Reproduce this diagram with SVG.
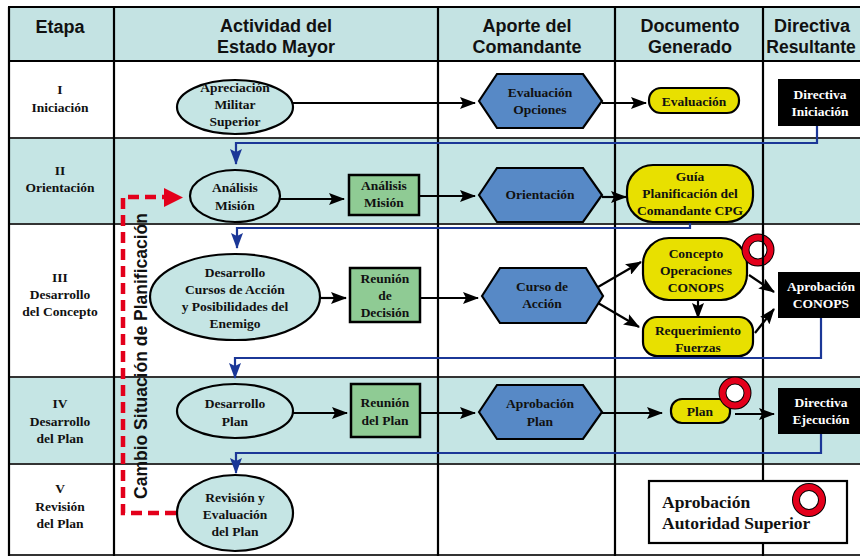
<svg xmlns="http://www.w3.org/2000/svg" width="860" height="556" viewBox="0 0 860 556">
  <style>
    .hdr { font-family: "Liberation Sans", Arial, sans-serif; font-weight: bold; font-size: 18px; fill: #111; text-anchor: middle; }
    .stg { font-family: "Liberation Serif", "Times New Roman", serif; font-weight: bold; font-size: 13.5px; fill: #111; text-anchor: middle; }
    .lbl { font-family: "Liberation Serif", "Times New Roman", serif; font-weight: bold; font-size: 13.5px; fill: #111; text-anchor: middle; }
    .lbw { font-family: "Liberation Serif", "Times New Roman", serif; font-weight: bold; font-size: 13.5px; fill: #fff; text-anchor: middle; }
    .ell { fill: #C5E5E4; stroke: #000; stroke-width: 2.2; }
    .hex { fill: #5789C6; stroke: #000; stroke-width: 2.2; }
    .grn { fill: #8FCB94; stroke: #000; stroke-width: 2.5; }
    .yel { fill: #E8E000; stroke: #000; stroke-width: 2.2; }
    .blk { fill: #000; }
    .vline { stroke: #000; stroke-width: 2.2; fill: none; }
    .hline { stroke: #333; stroke-width: 2; fill: none; }
    .flow { stroke: #000; stroke-width: 2.2; fill: none; marker-end: url(#ah); }
    .back { stroke: #1B3797; stroke-width: 2.2; fill: none; marker-end: url(#ahb); }
    .ring-o { fill: #fff; stroke: #000; stroke-width: 8; }
    .ring-i { fill: none; stroke: #E3001B; stroke-width: 6; }
  </style>
  <defs>
    <marker id="ah" markerUnits="userSpaceOnUse" markerWidth="16" markerHeight="12" refX="15" refY="6" orient="auto">
      <path d="M0,0 L16,6 L0,12 L3,6 z" fill="#000"/>
    </marker>
    <marker id="ahb" markerUnits="userSpaceOnUse" markerWidth="12" markerHeight="16" refX="6" refY="15" orient="0">
      <path d="M0,0 L6,3 L12,0 L6,16 z" fill="#1B3797"/>
    </marker>
  </defs>

  <!-- table background -->
  <g id="table-bg">
    <rect x="8" y="7" width="860" height="54" fill="#C4E3E3"/>
    <rect x="8" y="138" width="860" height="86" fill="#C5E5E4"/>
    <rect x="8" y="377" width="860" height="87" fill="#C5E5E4"/>
  </g>

  <!-- table grid -->
  <g id="grid">
    <line class="vline" x1="8" y1="7" x2="860" y2="7"/>
    <line class="vline" x1="8" y1="61" x2="860" y2="61"/>
    <line class="hline" x1="8" y1="138" x2="860" y2="138"/>
    <line class="hline" x1="8" y1="224" x2="860" y2="224"/>
    <line class="hline" x1="8" y1="377" x2="860" y2="377"/>
    <line class="hline" x1="8" y1="464" x2="860" y2="464"/>
    <line class="hline" x1="8" y1="555" x2="860" y2="555"/>
    <line class="vline" x1="9" y1="7" x2="9" y2="556"/>
    <line class="vline" x1="114" y1="7" x2="114" y2="556"/>
    <line class="vline" x1="438" y1="7" x2="438" y2="556"/>
    <line class="vline" x1="615" y1="7" x2="615" y2="556"/>
    <line class="vline" x1="763" y1="7" x2="763" y2="556"/>
  </g>

  <!-- column headings -->
  <g id="headers">
    <text class="hdr" x="60" y="33">Etapa</text>
    <text class="hdr" x="276" y="32">Actividad del</text>
    <text class="hdr" x="276" y="53">Estado Mayor</text>
    <text class="hdr" x="527" y="32">Aporte del</text>
    <text class="hdr" x="527" y="53">Comandante</text>
    <text class="hdr" x="690" y="32">Documento</text>
    <text class="hdr" x="690" y="53">Generado</text>
    <text class="hdr" x="812" y="32">Directiva</text>
    <text class="hdr" x="811" y="53" style="font-size:17.5px">Resultante</text>
  </g>

  <!-- stage labels -->
  <g id="stages">
    <text class="stg" x="60" y="94">I</text>
    <text class="stg" x="60" y="112">Iniciación</text>
    <text class="stg" x="60" y="175">II</text>
    <text class="stg" x="60" y="192">Orientación</text>
    <text class="stg" x="60" y="282">III</text>
    <text class="stg" x="60" y="299">Desarrollo</text>
    <text class="stg" x="60" y="316">del Concepto</text>
    <text class="stg" x="60" y="408">IV</text>
    <text class="stg" x="60" y="426">Desarrollo</text>
    <text class="stg" x="60" y="443">del Plan</text>
    <text class="stg" x="60" y="493">V</text>
    <text class="stg" x="60" y="511">Revisión</text>
    <text class="stg" x="60" y="528">del Plan</text>
  </g>

  <!-- connectors -->
  <g id="connectors">
    <line class="flow" x1="293" y1="103" x2="475" y2="103"/>
    <line class="flow" x1="602" y1="103" x2="646" y2="103"/>
    <path class="back" d="M817,126 V143 H236 V164"/>

    <line class="flow" x1="280" y1="199" x2="344" y2="199"/>
    <line class="flow" x1="419" y1="196" x2="475" y2="196"/>
    <line class="flow" x1="602" y1="197" x2="626" y2="197"/>
    <path class="back" d="M690,222 V228 H237 V248"/>

    <line class="flow" x1="320" y1="298" x2="346" y2="298"/>
    <line class="flow" x1="420" y1="298" x2="478" y2="298"/>
    <line class="flow" x1="598" y1="287" x2="641" y2="262"/>
    <line class="flow" x1="598" y1="303" x2="639" y2="327"/>
    <line class="flow" x1="698" y1="300" x2="698" y2="318"/>
    <line class="flow" x1="749" y1="275" x2="774" y2="292"/>
    <line class="flow" x1="755" y1="333" x2="774" y2="309"/>
    <path class="back" d="M821,318 V358 H235 V378"/>

    <line class="flow" x1="293" y1="413" x2="347" y2="413"/>
    <line class="flow" x1="420" y1="413" x2="475" y2="413"/>
    <line class="flow" x1="602" y1="413" x2="662" y2="413"/>
    <line class="flow" x1="735" y1="414" x2="774" y2="414"/>
    <path class="back" d="M821,434 V453 H236 V473"/>

    <path d="M176,513 H123 V197 H166" fill="none" stroke="#E3001B" stroke-width="4.5" stroke-dasharray="11,6"/>
    <path d="M164,188 L183,197.5 L164,207 z" fill="#E3001B"/>
  </g>

  <text id="replan-label" class="hdr" transform="translate(147,356) rotate(-90)" style="font-size:17.5px">Cambio Situación de Planificación</text>

  <!-- I Iniciación -->
  <g id="n-apreciacion">
    <ellipse class="ell" cx="235" cy="107" rx="58" ry="27"/>
    <text class="lbl" x="235" y="92">Apreciación</text>
    <text class="lbl" x="235" y="109">Militar</text>
    <text class="lbl" x="235" y="126">Superior</text>
  </g>
  <g id="n-eval-opciones">
    <polygon class="hex" points="479,101 497,74 583,74 602,101 583,128 497,128"/>
    <text class="lbl" x="540" y="97">Evaluación</text>
    <text class="lbl" x="540" y="114">Opciones</text>
  </g>
  <g id="n-evaluacion">
    <rect class="yel" x="649" y="88" width="90" height="25" rx="12"/>
    <text class="lbl" x="694" y="106">Evaluación</text>
  </g>
  <g id="n-dir-iniciacion">
    <rect class="blk" x="778" y="79" width="90" height="47"/>
    <text class="lbw" x="820" y="99">Directiva</text>
    <text class="lbw" x="820" y="116">Iniciación</text>
  </g>

  <!-- II Orientación -->
  <g id="n-analisis">
    <ellipse class="ell" cx="235" cy="196" rx="45" ry="26"/>
    <text class="lbl" x="235" y="192">Análisis</text>
    <text class="lbl" x="235" y="210">Misión</text>
  </g>
  <g id="n-analisis-mision">
    <rect class="grn" x="349" y="175" width="70" height="40"/>
    <text class="lbl" x="384" y="190">Análisis</text>
    <text class="lbl" x="384" y="207">Misión</text>
  </g>
  <g id="n-orientacion">
    <polygon class="hex" points="479,195 497,168 583,168 602,195 583,222 497,222"/>
    <text class="lbl" x="540" y="199">Orientación</text>
  </g>
  <g id="n-cpg">
    <rect class="yel" x="627" y="165" width="126" height="57" rx="26"/>
    <text class="lbl" x="690" y="181">Guía</text>
    <text class="lbl" x="690" y="198">Planificación del</text>
    <text class="lbl" x="690" y="215">Comandante CPG</text>
  </g>

  <!-- III Desarrollo del Concepto -->
  <g id="n-cursos">
    <ellipse class="ell" cx="235" cy="297" rx="85" ry="43"/>
    <text class="lbl" x="235" y="277">Desarrollo</text>
    <text class="lbl" x="235" y="294">Cursos de Acción</text>
    <text class="lbl" x="235" y="311">y Posibilidades del</text>
    <text class="lbl" x="235" y="328">Enemigo</text>
  </g>
  <g id="n-reunion-decision">
    <rect class="grn" x="350" y="268" width="70" height="54"/>
    <text class="lbl" x="385" y="283">Reunión</text>
    <text class="lbl" x="385" y="300">de</text>
    <text class="lbl" x="385" y="317">Decisión</text>
  </g>
  <g id="n-curso-accion">
    <polygon class="hex" points="482,296 500,268 586,268 603,296 586,323 500,323"/>
    <text class="lbl" x="542" y="291">Curso de</text>
    <text class="lbl" x="542" y="308">Acción</text>
  </g>
  <g id="n-conops">
    <rect class="yel" x="643" y="238" width="104" height="62" rx="26"/>
    <text class="lbl" x="696" y="258">Concepto</text>
    <text class="lbl" x="696" y="275">Operaciones</text>
    <text class="lbl" x="696" y="292">CONOPS</text>
    <circle class="ring-o" cx="758" cy="250" r="12.5"/>
    <circle class="ring-i" cx="758" cy="250" r="12.5"/>
  </g>
  <g id="n-requerimiento">
    <rect class="yel" x="643" y="317" width="110" height="39" rx="14"/>
    <text class="lbl" x="698" y="335">Requerimiento</text>
    <text class="lbl" x="698" y="352">Fuerzas</text>
  </g>
  <g id="n-aprob-conops">
    <rect class="blk" x="778" y="272" width="90" height="46"/>
    <text class="lbw" x="821" y="291">Aprobación</text>
    <text class="lbw" x="821" y="308">CONOPS</text>
  </g>
  <!-- column rule passing over the approval badge -->
  <line class="vline" x1="763" y1="230" x2="763" y2="270"/>

  <!-- IV Desarrollo del Plan -->
  <g id="n-desarrollo-plan">
    <ellipse class="ell" cx="235" cy="411" rx="58" ry="27"/>
    <text class="lbl" x="235" y="408">Desarrollo</text>
    <text class="lbl" x="235" y="426">Plan</text>
  </g>
  <g id="n-reunion-plan">
    <rect class="grn" x="351" y="384" width="69" height="53"/>
    <text class="lbl" x="385" y="407">Reunión</text>
    <text class="lbl" x="385" y="425">del Plan</text>
  </g>
  <g id="n-aprob-plan">
    <polygon class="hex" points="479,412 497,385 583,385 602,412 583,439 497,439"/>
    <text class="lbl" x="540" y="408">Aprobación</text>
    <text class="lbl" x="540" y="426">Plan</text>
  </g>
  <g id="n-plan">
    <rect class="yel" x="671" y="399" width="59" height="24" rx="11"/>
    <text class="lbl" x="700" y="416">Plan</text>
    <circle class="ring-o" cx="735" cy="393" r="12.5"/>
    <circle class="ring-i" cx="735" cy="393" r="12.5"/>
  </g>
  <g id="n-dir-ejecucion">
    <rect class="blk" x="778" y="388" width="90" height="46"/>
    <text class="lbw" x="821" y="407">Directiva</text>
    <text class="lbw" x="821" y="424">Ejecución</text>
  </g>

  <!-- V Revisión del Plan -->
  <g id="n-revision">
    <ellipse class="ell" cx="235" cy="513" rx="58" ry="38"/>
    <text class="lbl" x="235" y="502">Revisión y</text>
    <text class="lbl" x="235" y="519">Evaluación</text>
    <text class="lbl" x="235" y="536">del Plan</text>
  </g>

  <!-- legend -->
  <g id="legend">
    <rect x="649" y="481" width="198" height="62" fill="#fff" stroke="#000" stroke-width="2.2"/>
    <text class="lbl" x="662" y="508" style="text-anchor:start;font-size:17.5px">Aprobación</text>
    <text class="lbl" x="662" y="529" style="text-anchor:start;font-size:17.5px">Autoridad Superior</text>
    <circle class="ring-o" cx="809" cy="500" r="13"/>
    <circle class="ring-i" cx="809" cy="500" r="13"/>
  </g>
</svg>
